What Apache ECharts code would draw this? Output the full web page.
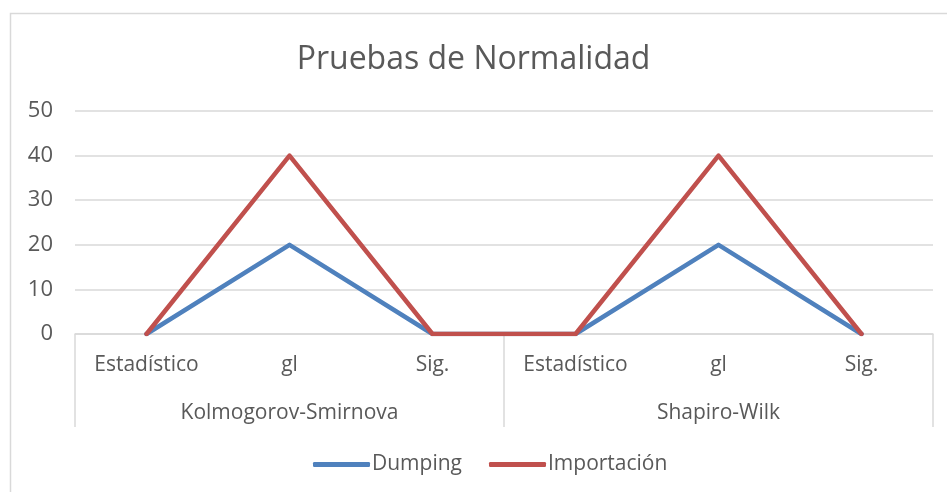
<!DOCTYPE html>
<html>
<head>
<meta charset="utf-8">
<script src="https://cdn.jsdelivr.net/npm/echarts@6/dist/echarts.min.js"></script>
<style>html,body{margin:0;padding:0;background:#fff}#c{width:947px;height:492px}</style>
</head>
<body>
<div id="c"></div>
<script>
const categories = ['Estadístico', 'gl', 'Sig.', 'Estadístico', 'gl', 'Sig.'];
const groups = ['Kolmogorov-Smirnova', 'Shapiro-Wilk'];
const dumping = [0, 20, 0, 0, 20, 0];
const importacion = [0, 40, 0, 0, 40, 0];
const yTicks = { min: 0, max: 50, interval: 10 };

const FONT = '"Open Sans", "Noto Sans", sans-serif';
const TXT = '#595959';
const chart = echarts.init(document.getElementById('c'), null, { renderer: 'canvas' });
chart.setOption({
  animation: false,
  backgroundColor: '#fff',
  graphic: [{
    type: 'rect', shape: { x: 10.5, y: 13.5, width: 960, height: 500 },
    style: { fill: 'none', stroke: '#d9d9d9', lineWidth: 1.5 }, silent: true
  }],
  title: {
    text: 'Pruebas de Normalidad', left: 'center', top: 39,
    textStyle: { fontFamily: FONT, fontSize: 32, fontWeight: 'normal', color: TXT }
  },
  legend: {
    bottom: 12, left: 308, itemWidth: 57, itemHeight: 5, itemGap: 27,
    icon: 'roundRect',
    textStyle: { fontFamily: FONT, fontSize: 21, color: TXT, padding: [0, 0, 0, -3] },
    data: ['Dumping', 'Importación']
  },
  grid: { left: 75, right: 14, top: 111, bottom: 158, containLabel: false },
  xAxis: [{
    type: 'category', data: categories, boundaryGap: true,
    axisLine: { show: true, lineStyle: { color: '#d9d9d9', width: 1.5 } },
    axisTick: { show: false },
    axisLabel: { margin: 21, fontFamily: FONT, fontSize: 21, color: TXT, interval: 0 },
    splitLine: { show: false }
  }, {
    type: 'category', data: groups, position: 'bottom', boundaryGap: true,
    axisLine: { show: false },
    axisTick: { show: true, length: 93, alignWithLabel: false, lineStyle: { color: '#d9d9d9', width: 1.5 } },
    axisLabel: { margin: 69, fontFamily: FONT, fontSize: 21, color: TXT, interval: 0 },
    splitLine: { show: false }
  }],
  yAxis: {
    type: 'value', min: yTicks.min, max: yTicks.max, interval: yTicks.interval,
    axisLine: { show: false }, axisTick: { show: false },
    axisLabel: { margin: 22, fontFamily: FONT, fontSize: 22, color: TXT },
    splitLine: { lineStyle: { color: '#d9d9d9', width: 1.5 } }
  },
  series: [{
    name: 'Dumping', type: 'line', data: dumping, xAxisIndex: 0,
    symbol: 'none', color: '#4f81bd',
    lineStyle: { width: 4.5, color: '#4f81bd', cap: 'round', join: 'round' }
  }, {
    name: 'Importación', type: 'line', data: importacion, xAxisIndex: 0,
    symbol: 'none', color: '#c0504d',
    lineStyle: { width: 4.5, color: '#c0504d', cap: 'round', join: 'round' }
  }]
});
</script>
</body>
</html>
